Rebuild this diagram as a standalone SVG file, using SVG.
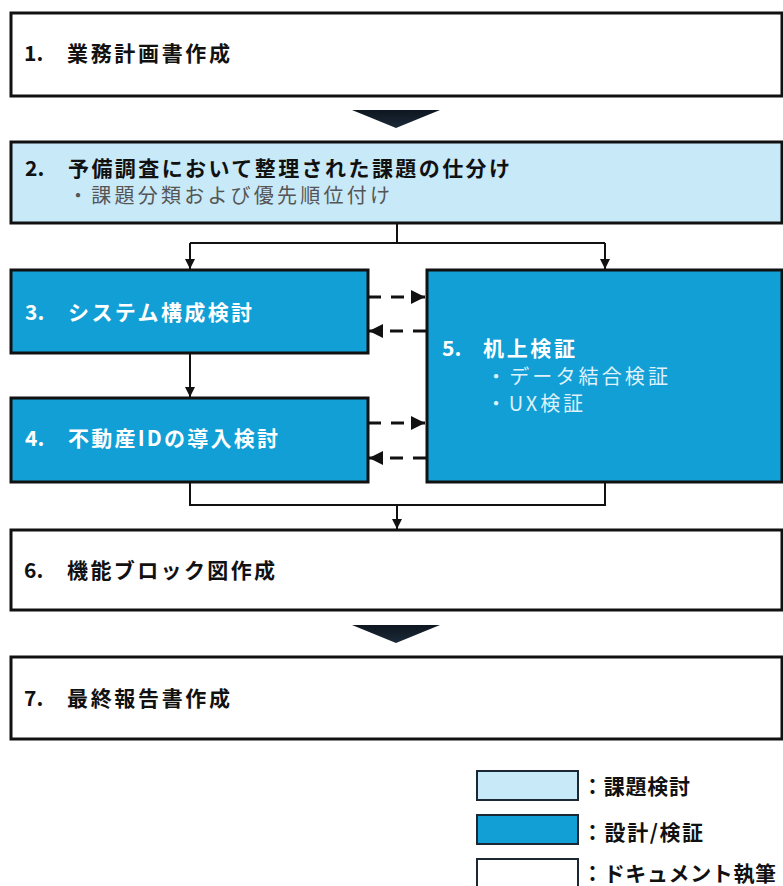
<svg xmlns="http://www.w3.org/2000/svg" width="783" height="886" viewBox="0 0 783 886">
<style>
.box{stroke:#111;stroke-width:3}
.white{fill:#fff}
.light{fill:#c8e9f8}
.dark{fill:#129fd6}
.t{font-family:"Noto Sans CJK JP","Noto Sans",sans-serif;font-weight:bold;font-size:21px}
.blk{fill:#111}
.wht{fill:#fff}
.sub{font-family:"Noto Sans CJK JP","Noto Sans",sans-serif;font-weight:normal;font-size:20px}
.con{stroke:#111;stroke-width:2;fill:none}
.dash{stroke:#111;stroke-width:3;fill:none;stroke-dasharray:13 10}
.lg{stroke:#1b2733;stroke-width:2}
</style>
<defs>
<marker id="ah" viewBox="0 0 10 10" refX="10" refY="5" markerWidth="10" markerHeight="10" markerUnits="userSpaceOnUse" orient="auto">
<path d="M0,0 L10,5 L0,10 Z" fill="#111"/>
</marker>
<marker id="dh" viewBox="0 0 12 12" refX="12" refY="6" markerWidth="14" markerHeight="14" markerUnits="userSpaceOnUse" orient="auto">
<path d="M0,0 L12,6 L0,12 Z" fill="#111"/>
</marker>
<linearGradient id="tri" x1="0" y1="0" x2="0" y2="1">
<stop offset="0" stop-color="#0d1620"/>
<stop offset="1" stop-color="#1c2a38"/>
</linearGradient>
</defs>

<g id="connectors">
<polygon points="352,110 440,110 396,128" fill="url(#tri)"/>
<polygon points="352,625 440,625 396,643" fill="url(#tri)"/>
<path class="con" d="M397,223 V243"/>
<path class="con" d="M190,243 H605"/>
<path class="con" d="M190,243 V269" marker-end="url(#ah)"/>
<path class="con" d="M605,243 V269" marker-end="url(#ah)"/>
<path class="con" d="M190,353 V397" marker-end="url(#ah)"/>
<path class="con" d="M190,482 V505 H605 V482"/>
<path class="con" d="M397,505 V529" marker-end="url(#ah)"/>
<path class="dash" d="M368,297 H425" marker-end="url(#dh)"/>
<path class="dash" d="M426,331 H369" marker-end="url(#dh)"/>
<path class="dash" d="M368,423 H425" marker-end="url(#dh)"/>
<path class="dash" d="M426,458 H369" marker-end="url(#dh)"/>
</g>

<g id="node1">
<rect class="box white" x="11" y="13" width="771" height="83"/>
<text class="t blk" x="24" y="61">1.</text>
<text class="t blk" x="67" y="61" textLength="163" lengthAdjust="spacing">業務計画書作成</text>
</g>

<g id="node2">
<rect class="box light" x="11" y="142" width="771" height="81"/>
<text class="t blk" x="25" y="176">2.</text>
<text class="t blk" x="68" y="176" textLength="442" lengthAdjust="spacing">予備調査において整理された課題の仕分け</text>
<text class="sub" fill="#555" x="68" y="203" textLength="322" lengthAdjust="spacing">・課題分類および優先順位付け</text>
</g>

<g id="node3">
<rect class="box dark" x="11" y="270" width="357" height="83"/>
<text class="t wht" x="25" y="320">3.</text>
<text class="t wht" x="68" y="320" textLength="184" lengthAdjust="spacing">システム構成検討</text>
</g>

<g id="node4">
<rect class="box dark" x="11" y="398" width="357" height="84"/>
<text class="t wht" x="25" y="446">4.</text>
<text class="t wht" x="68" y="446" textLength="210" lengthAdjust="spacing">不動産IDの導入検討</text>
</g>

<g id="node5">
<rect class="box dark" x="427" y="270" width="355" height="212"/>
<text class="t wht" x="442" y="356">5.</text>
<text class="t wht" x="483" y="356" textLength="92" lengthAdjust="spacing">机上検証</text>
<text class="sub" fill="#dff1fb" x="486" y="384" textLength="182" lengthAdjust="spacing">・データ結合検証</text>
<text class="sub" fill="#dff1fb" x="486" y="411" textLength="97" lengthAdjust="spacing">・UX検証</text>
</g>

<g id="node6">
<rect class="box white" x="11" y="530" width="771" height="80"/>
<text class="t blk" x="24" y="578">6.</text>
<text class="t blk" x="67" y="578" textLength="208" lengthAdjust="spacing">機能ブロック図作成</text>
</g>

<g id="node7">
<rect class="box white" x="11" y="657" width="771" height="82"/>
<text class="t blk" x="24" y="706">7.</text>
<text class="t blk" x="67" y="706" textLength="163" lengthAdjust="spacing">最終報告書作成</text>
</g>

<g id="legend">
<rect class="lg light" x="477" y="771" width="101" height="29"/>
<rect class="lg dark" x="477" y="815" width="101" height="29"/>
<rect class="lg white" x="477" y="859" width="101" height="40"/>
<text class="t blk" x="582" y="794" textLength="108" lengthAdjust="spacing">：課題検討</text>
<text class="t blk" x="582" y="840" textLength="121" lengthAdjust="spacing">：設計/検証</text>
<text class="t blk" x="582" y="881" textLength="194" lengthAdjust="spacing">：ドキュメント執筆</text>
</g>
</svg>
